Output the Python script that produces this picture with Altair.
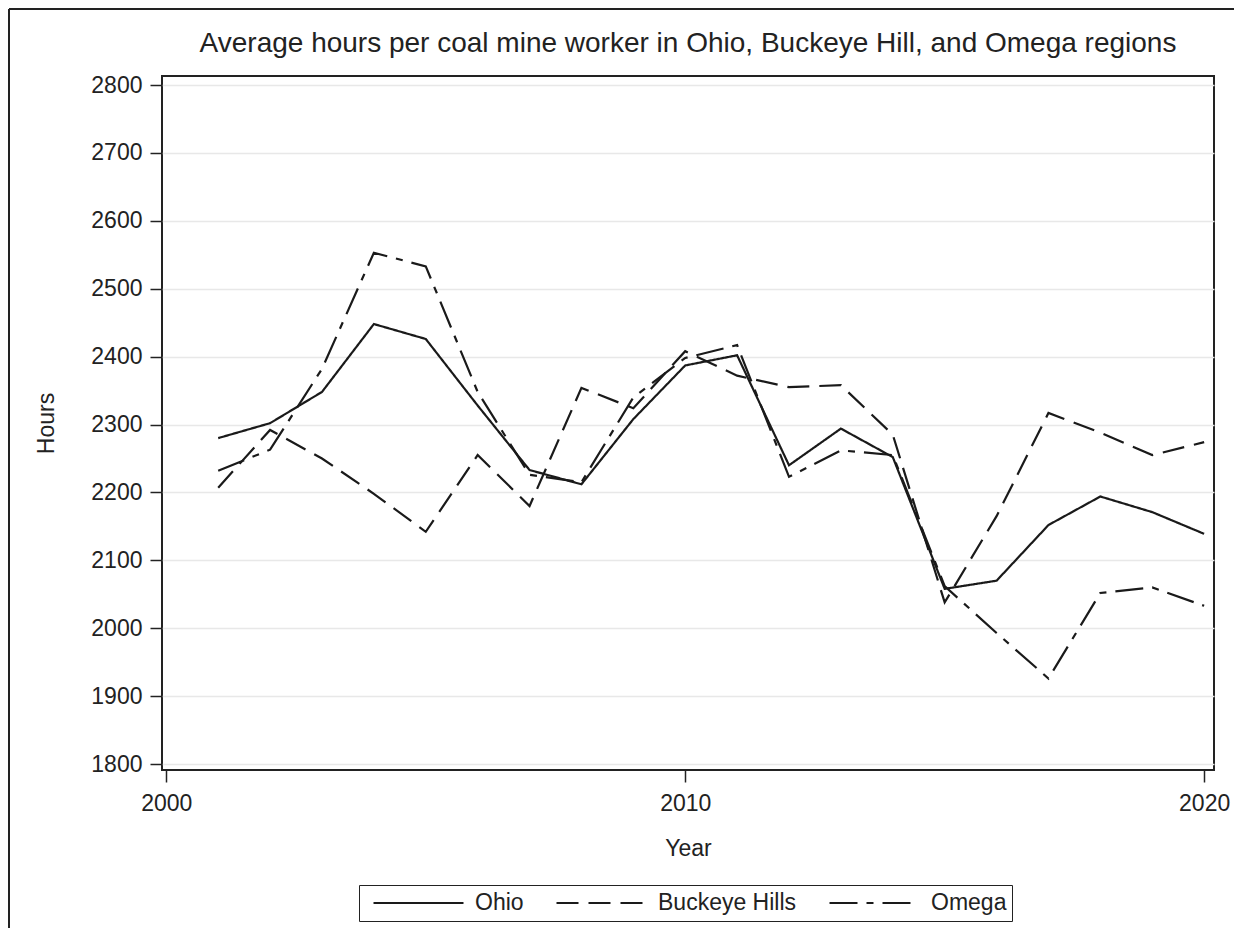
import altair as alt
import pandas as pd

years = list(range(2001, 2021))
ohio = [2280, 2302, 2348, 2448, 2426, 2328, 2233, 2212, 2308, 2387,
        2402, 2240, 2294, 2252, 2058, 2070, 2152, 2194, 2171, 2139]
buckeye = [2207, 2292, 2250, 2198, 2142, 2255, 2180, 2354, 2324, 2408,
           2372, 2355, 2358, 2285, 2038, 2165, 2317, 2288, 2255, 2274]
omega = [2232, 2263, 2382, 2553, 2533, 2348, 2226, 2215, 2340, 2398,
         2417, 2223, 2262, 2255, 2062, 1993, 1926, 2052, 2060, 2033]
series_names = ["Ohio", "Buckeye Hills", "Omega"]
y_ticks = list(range(1800, 2801, 100))
x_ticks = [2000, 2010, 2020]
title_text = "Average hours per coal mine worker in Ohio, Buckeye Hill, and Omega regions"

rows = []
for name, vals in zip(series_names, [ohio, buckeye, omega]):
    for yr, v in zip(years, vals):
        rows.append({"Year": yr, "Hours": v, "Region": name})
df = pd.DataFrame(rows)

FONT = "Liberation Sans"
INK = "#222222"

lines = alt.Chart(df).mark_line(color="#1a1a1a", strokeWidth=2.2).encode(
    x=alt.X(
        "Year:Q",
        scale=alt.Scale(domain=[1999.917, 2020.19], nice=False, zero=False),
        axis=alt.Axis(
            values=x_ticks, format="d", grid=False, domain=False, title="Year",
            tickSize=12, tickWidth=1.5, tickColor=INK,
            labelFont=FONT, labelFontSize=23, labelColor=INK, labelPadding=10,
            titleFont=FONT, titleFontSize=23, titleFontWeight="normal",
            titleColor=INK, titlePadding=22,
        ),
    ),
    y=alt.Y(
        "Hours:Q",
        scale=alt.Scale(domain=[1791.2, 2813.3], nice=False, zero=False),
        axis=alt.Axis(
            values=y_ticks, format="d", grid=True, gridColor="#e8e8e8",
            gridWidth=1.5, domain=False, title="Hours",
            tickSize=12, tickWidth=1.5, tickColor=INK,
            labelFont=FONT, labelFontSize=23, labelColor=INK, labelPadding=8,
            titleFont=FONT, titleFontSize=23, titleFontWeight="normal",
            titleColor=INK, titlePadding=32,
        ),
    ),
    strokeDash=alt.StrokeDash(
        "Region:N",
        scale=alt.Scale(domain=series_names,
                        range=[[1, 0], [22, 10], [28, 9, 7, 9]]),
        legend=alt.Legend(
            title=None, orient="none", legendX=197, legendY=809,
            direction="horizontal", symbolType="stroke", symbolSize=8100,
            symbolStrokeWidth=2.2, symbolStrokeColor="#1a1a1a",
            clipHeight=26,
            labelFont=FONT, labelFontSize=23, labelColor=INK,
            labelOffset=10, columnPadding=23, strokeColor=INK,
            padding=5, symbolOffset=8,
        ),
    ),
)

frame_df = pd.DataFrame({"k": [0]})
left_border = alt.Chart(frame_df).mark_rule(color=INK, strokeWidth=2).encode(
    x=alt.value(-153), y=alt.value(-67), y2=alt.value(900)
)
top_border = alt.Chart(frame_df).mark_rule(color=INK, strokeWidth=2).encode(
    x=alt.value(-153), x2=alt.value(1100), y=alt.value(-67)
)

chart = alt.layer(lines, left_border, top_border).properties(
    width=1052,
    height=694,
    title=alt.TitleParams(
        title_text, font=FONT, fontSize=28, fontWeight="normal",
        color=INK, anchor="middle", offset=-72, frame="group",
        baseline="alphabetic",
    ),
    autosize=alt.AutoSizeParams(type="none"),
    padding={"left": 154, "top": 68, "right": 20, "bottom": 158},
).configure_view(stroke=INK, strokeWidth=2)

chart.save("out.html", embed_options={"renderer": "svg", "actions": False})
